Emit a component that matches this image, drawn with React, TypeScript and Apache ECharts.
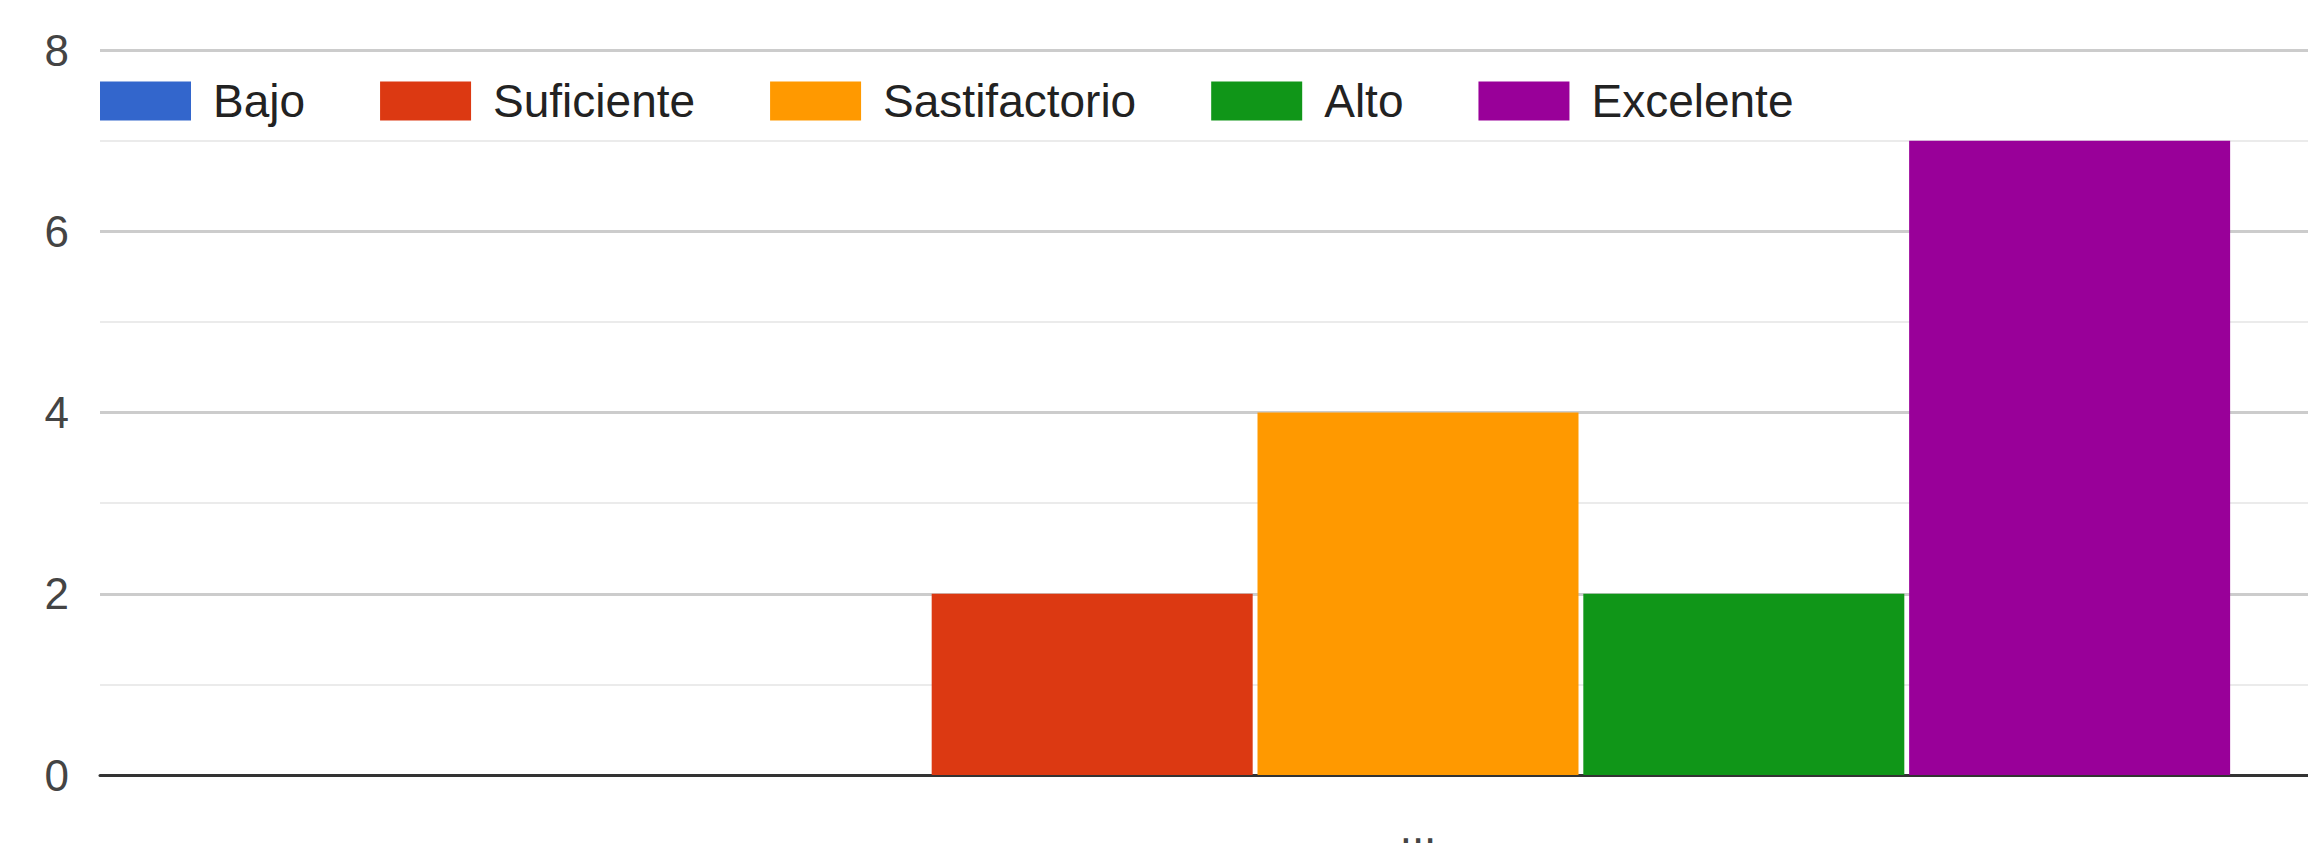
import React, { useEffect, useRef } from "react";
import * as echarts from "echarts";

const categories = ["..."];
const seriesNames = ["Bajo", "Suficiente", "Sastifactorio", "Alto", "Excelente"];
const seriesValues = [0, 2, 4, 2, 7];
const seriesColors = ["#3366cc", "#dc3912", "#ff9900", "#109618", "#990099"];
const yTicks = { min: 0, max: 8, interval: 2 };

export default function App() {
  const ref = useRef<HTMLDivElement>(null);
  useEffect(() => {
    if (!ref.current) return;
    const chart = echarts.init(ref.current, null, { renderer: "svg" });
    const font = "'Liberation Sans', Arial, sans-serif";
    chart.setOption({
      animation: false,
      backgroundColor: "#ffffff",
      legend: {
        left: 100,
        top: 78,
        padding: 0,
        icon: "rect",
        itemWidth: 91,
        itemHeight: 39,
        itemGap: 75,
        textStyle: {
          fontSize: 46,
          lineHeight: 46,
          color: "#222222",
          fontFamily: font,
          padding: [0, 0, 0, 17],
        },
        data: seriesNames,
      },
      grid: {
        left: 100,
        right: -428,
        top: 50,
        bottom: 70,
        containLabel: false,
        outerBoundsMode: "none",
      },
      xAxis: {
        type: "category",
        data: categories,
        axisTick: { show: false },
        axisLine: { show: true, lineStyle: { color: "#333333", width: 3 } },
        axisLabel: { fontSize: 44, color: "#444444", fontFamily: font, margin: 30 },
        splitLine: { show: false },
      },
      yAxis: {
        type: "value",
        min: yTicks.min,
        max: yTicks.max,
        interval: yTicks.interval,
        axisLine: { show: false },
        axisTick: { show: false },
        axisLabel: { fontSize: 44, color: "#444444", fontFamily: font, margin: 31 },
        splitLine: { show: true, lineStyle: { color: "#cccccc", width: 3 } },
        minorTick: { show: false, splitNumber: 2 },
        minorSplitLine: { show: true, lineStyle: { color: "#ebebeb", width: 2 } },
      },
      series: seriesNames.map((name, i) => ({
        name,
        type: "bar",
        data: [seriesValues[i]],
        barWidth: 321,
        barGap: "1.5%",
        itemStyle: { color: seriesColors[i] },
      })),
    });
    return () => chart.dispose();
  }, []);
  return (
    <div
      ref={ref}
      style={{ position: "fixed", left: 0, top: 0, width: 2308, height: 845 }}
    />
  );
}
